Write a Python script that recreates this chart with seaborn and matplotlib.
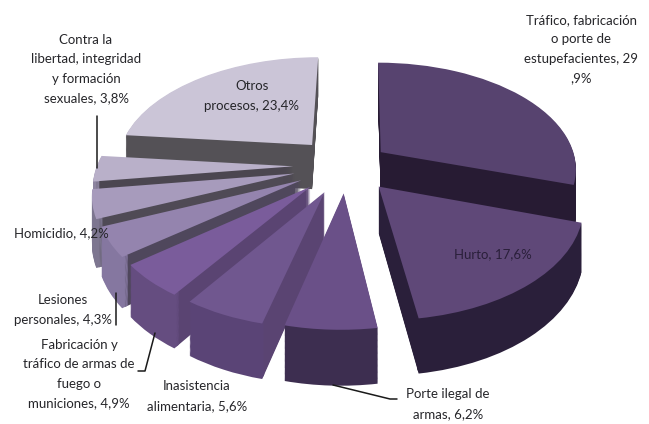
import matplotlib
matplotlib.use('Agg')
import numpy as np
import seaborn as sns
import matplotlib.pyplot as plt
from matplotlib.transforms import Transform

# Porcentaje de procesos por delito
delitos = ['Tráfico, fabricación\no porte de\nestupefacientes, 29\n,9%',
           'Hurto, 17,6%',
           'Porte ilegal de\narmas, 6,2%',
           'Inasistencia\nalimentaria, 5,6%',
           'Fabricación y\ntráfico de armas de\nfuego o\nmuniciones, 4,9%',
           'Lesiones\npersonales, 4,3%',
           'Homicidio, 4,2%',
           'Contra la\nlibertad, integridad\ny formación\nsexuales, 3,8%',
           'Otros\nprocesos, 23,4%']
valores = [29.9, 17.6, 6.2, 5.6, 4.9, 4.3, 4.2, 3.8, 23.4]

color_cara = ['#57436f', '#5f4878', '#6a5088', '#70578f', '#7a5c9b',
              '#9484ae', '#a79bbc', '#b9b0c9', '#cbc5d7']
color_corte = ['#271b33', '#2a1f3a', '#5a4774', '#5a4472', '#5a4472',
               '#4f475c', '#4f4a55', '#4b4650', '#545156']
color_borde = ['#271b33', '#2a1f3a', '#3d2e50', '#5a4476', '#654d80',
               '#8577a0', '#7d7690', '#8d84a0', '#545156']
separacion = [0.22, 0.25, 0.25, 0.26, 0.26, 0.26, 0.27, 0.27, 0.27]

ANCHO, ALTO = 649, 424
GROSOR = 47
K = 0.155


# pasa el plano del pie a pixeles, con perspectiva como el 3D de Excel
class Perspectiva(Transform):
    input_dims = 2
    output_dims = 2

    def __init__(self, caida=0):
        super().__init__()
        self.caida = caida

    def transform_non_affine(self, values):
        values = np.asarray(values, dtype=float)
        w = 1 / (1 + K * values[:, 1])
        sx = 360 + 203 * values[:, 0] * w
        sy = 190 + 736 * (w - 1) + self.caida * w
        return np.column_stack([sx, sy])


sns.set_theme(style='white')
plt.rcParams['font.family'] = ['Lato', 'DejaVu Sans']

fig, ax = plt.subplots(figsize=(ANCHO / 100, ALTO / 100), dpi=100)
ax.set_position([0, 0, 1, 1])


def dibuja_pie(colores, caida, radio=1, **props):
    wedges, _ = ax.pie(valores, explode=separacion, colors=colores, startangle=90,
                       counterclock=False, center=(-0.07, 0.22), radius=radio,
                       wedgeprops=dict(linewidth=0, **props))
    for w in wedges:
        w.set_transform(Perspectiva(caida) + ax.transData)


# capas de abajo hacia arriba para dar el grosor
for caida in np.arange(GROSOR, 0, -1.0):
    dibuja_pie(color_corte, caida, radio=0.985)
    dibuja_pie(color_borde, caida, width=0.03)
dibuja_pie(color_cara, 0)

ax.set_aspect('auto')
ax.set_xlim(0, ANCHO)
ax.set_ylim(ALTO, 0)
ax.axis('off')

# etiquetas
pos_etiquetas = [(581, 49), (493, 254), (448, 404), (197, 396), (79, 374),
                 (63, 310), (61, 233), (86, 69), (252, 96)]
for texto, (x, y) in zip(delitos, pos_etiquetas):
    color = '#2a1f3a' if texto.startswith('Hurto') else '#26262a'
    ax.text(x, y, texto, ha='center', va='center', fontsize=9.5, color=color,
            linespacing=1.75)

# lineas guia
guias = [([97, 97], [116, 168]),
         ([116, 116], [293, 325]),
         ([155, 145, 138], [333, 371, 371]),
         ([333, 390, 397], [385, 399, 399])]
for xs, ys in guias:
    ax.plot(xs, ys, color='#1a1a1a', lw=1.1)

plt.savefig('out.png', dpi=100)
